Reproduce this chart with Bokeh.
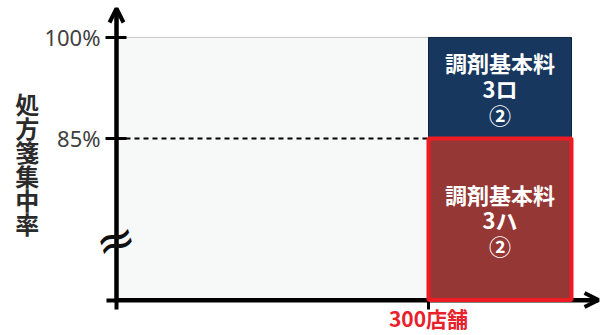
from bokeh.plotting import figure
from bokeh.models import Range1d, FixedTicker, Label, Arrow, OpenHead, ColumnDataSource
from bokeh.core.properties import value
from bokeh.embed import file_html
from bokeh.resources import INLINE

# ---- data ----
y_ticks = [85, 100]
y_tick_labels = ["85%", "100%"]
x_ticks = [300]
x_tick_labels = ["300店舗"]
y_axis_title = "処方箋集中率"

threshold = 85
stores = 300
y_floor = 61
y_ceiling = 100

box_x0 = [300, 300]
box_x1 = [437.5, 437.5]
box_y0 = [85, 61]
box_y1 = [100, 85]
box_labels = ["調剤基本料\n3ロ\n②", "調剤基本料\n3ハ\n②"]
box_colors = ["#17375e", "#953735"]

JP = "Noto Sans CJK JP"

# ---- layout (data extents of the canvas) ----
x_lo, x_hi = -111.54, 467.3
y_lo, y_hi = 55.74, 105.49
x_arrow_end = 463.5
y_arrow_end = 104.3

p = figure(width=602, height=335, output_backend="svg", toolbar_location=None,
           x_range=Range1d(x_lo, x_hi), y_range=Range1d(y_lo, y_hi),
           min_border=0, min_border_left=0, min_border_right=0,
           min_border_top=0, min_border_bottom=0,
           outline_line_color=None, background_fill_color="white", border_fill_color="white")
p.xgrid.visible = False
p.ygrid.visible = False

# axes crossing at the origin
for ax in (p.xaxis, p.yaxis):
    ax.axis_line_width = 4
    ax.axis_line_color = "black"
    ax.major_tick_line_width = 3
    ax.major_tick_line_color = "black"
    ax.minor_tick_line_color = None

p.xaxis.fixed_location = y_floor
p.yaxis.fixed_location = 0
p.xaxis.bounds = (-9.6, x_arrow_end)
p.yaxis.bounds = (59.6, y_arrow_end)

p.xaxis.ticker = FixedTicker(ticks=x_ticks)
p.xaxis.major_label_overrides = dict(zip(x_ticks, x_tick_labels))
p.xaxis.major_tick_in = 0
p.xaxis.major_tick_out = 9
p.xaxis.major_label_standoff = -6
p.xaxis.major_label_text_font = JP
p.xaxis.major_label_text_font_style = "bold"
p.xaxis.major_label_text_font_size = "21px"
p.xaxis.major_label_text_color = "#e8212a"

p.yaxis.ticker = FixedTicker(ticks=y_ticks)
p.yaxis.major_label_overrides = dict(zip(y_ticks, y_tick_labels))
p.yaxis.major_tick_in = 10
p.yaxis.major_tick_out = 11
p.yaxis.major_label_standoff = 5
p.yaxis.major_label_text_font = "Noto Sans"
p.yaxis.major_label_text_font_size = "22px"
p.yaxis.major_label_text_color = "#404040"

# light background area
p.quad(left=[0], right=[stores], bottom=[y_floor], top=[y_ceiling],
       fill_color="#f7f9f9", line_color="#c8c8c8", line_width=1, level="underlay")

# dashed threshold line
p.line(x=[0, stores], y=[threshold, threshold], line_dash="5 4", line_width=2, line_color="black")

# boxes
src_top = ColumnDataSource(dict(l=box_x0[:1], r=box_x1[:1], b=box_y0[:1], t=box_y1[:1]))
p.quad(left="l", right="r", bottom="b", top="t", source=src_top,
       fill_color=box_colors[0], line_color="#0e2440", line_width=1)
src_bot = ColumnDataSource(dict(l=box_x0[1:], r=box_x1[1:], b=box_y0[1:], t=box_y1[1:]))
p.quad(left="l", right="r", bottom="b", top="t", source=src_bot,
       fill_color=box_colors[1], line_color="#ed1c24", line_width=4, level="overlay")

cx = [(a + b) / 2 for a, b in zip(box_x0, box_x1)]
cy = [(a + b) / 2 for a, b in zip(box_y0, box_y1)]
p.text(x=cx, y=cy, text=box_labels, text_color="white", text_font=value(JP),
       text_font_style="bold", text_font_size="22px", text_align="center",
       text_baseline="middle", text_line_height=0.8, level="overlay")

# axis arrows
p.add_layout(Arrow(end=OpenHead(size=14, line_width=4, line_color="black"),
                   x_start=0, y_start=y_floor, x_end=0, y_end=y_arrow_end,
                   line_width=4, line_color="black"))
p.add_layout(Arrow(end=OpenHead(size=14, line_width=4, line_color="black"),
                   x_start=0, y_start=y_floor, x_end=x_arrow_end, y_end=y_floor,
                   line_width=4, line_color="black"))

# y axis title (vertical stacked)
p.add_layout(Label(x=-85.9, y=81.3, text="\n".join(y_axis_title), text_align="center",
                   text_baseline="middle", text_font=JP, text_font_style="bold",
                   text_font_size="24px", text_color="#2b2b2b", text_line_height=0.69))

# axis break mark
p.add_layout(Label(x=-1, y=70, text="≈", text_align="center", text_baseline="middle",
                   angle=0.3, text_font="DejaVu Sans", text_font_size="48px",
                   text_color="#111111"))

open("out.html", "w").write(file_html(p, INLINE))
